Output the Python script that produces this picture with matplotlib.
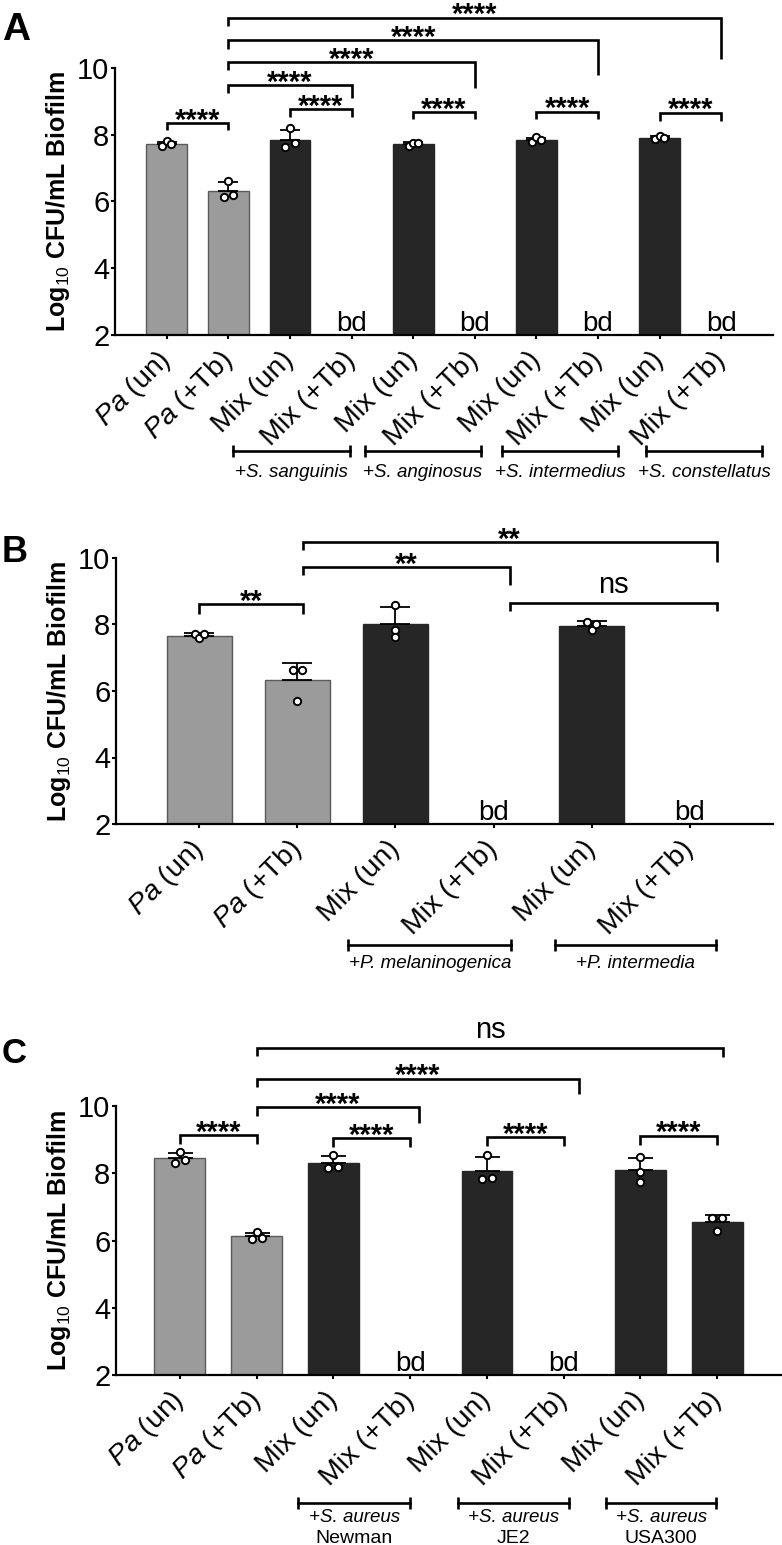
import numpy as np
import matplotlib
matplotlib.use('Agg')
from matplotlib import pyplot as plt

plt.rcParams['font.family'] = ['Liberation Sans', 'DejaVu Sans']
plt.rcParams['mathtext.fontset'] = 'custom'
plt.rcParams['mathtext.rm'] = 'Liberation Sans'
plt.rcParams['mathtext.it'] = 'Liberation Sans:italic'
plt.rcParams['mathtext.bf'] = 'Liberation Sans:bold'

GREY = '#9b9b9b'
DARK = '#262626'

pa_un = r'$\it{Pa}$ (un)'
pa_tb = r'$\it{Pa}$ (+Tb)'
mix_un = 'Mix (un)'
mix_tb = 'Mix (+Tb)'

# ---- Panel A : oral streptococci ----
a_labels = [pa_un, pa_tb] + [mix_un, mix_tb] * 4
# three replicates per bar (left, middle, right); None = below detection
a_points = [[7.67, 7.80, 7.72], [6.14, 6.62, 6.19],
            [7.64, 8.19, 7.74], None,
            [7.67, 7.76, 7.74], None,
            [7.79, 7.92, 7.84], None,
            [7.87, 7.96, 7.91], None]
a_colors = [GREY, GREY] + [DARK] * 8
a_jitter = [0.075] * 10
# (x1, x2, top, left leg end, right leg end, label)
a_brackets = [(0, 1, 8.35, 8.14, 8.14, '****'),
              (2, 3, 8.77, 8.53, 8.53, '****'),
              (4, 5, 8.68, 8.47, 8.47, '****'),
              (6, 7, 8.69, 8.47, 8.47, '****'),
              (8, 9, 8.66, 8.42, 8.42, '****'),
              (1, 3, 9.49, 9.25, 9.09, '****'),
              (1, 5, 10.18, 9.93, 9.39, '****'),
              (1, 7, 10.83, 10.58, 9.78, '****'),
              (1, 9, 11.51, 11.25, 10.28, '****')]
a_groups = [(1.075, 2.98, '+S. sanguinis', None),
            (3.22, 5.10, '+S. anginosus', None),
            (5.44, 7.33, '+S. intermedius', None),
            (7.78, 9.66, '+S. constellatus', None)]

# ---- Panel B : Prevotella ----
b_labels = [pa_un, pa_tb, mix_un, mix_tb, mix_un, mix_tb]
b_points = [[7.72, 7.58, 7.70], [6.63, 5.70, 6.63],
            [8.58, 7.83, 7.61], None,
            [8.07, 7.82, 8.00], None]
b_colors = [GREY, GREY, DARK, DARK, DARK, DARK]
b_jitter = [0.045, 0.045, 0.0, 0.0, 0.045, 0.0]
b_brackets = [(0, 1.055, 8.61, 8.33, 8.33, '**'),
              (1.055, 3.165, 9.73, 9.48, 9.18, '**'),
              (1.055, 5.275, 10.48, 10.23, 9.88, '**'),
              (3.165, 5.275, 8.64, 8.40, 8.40, 'ns')]
b_groups = [(1.52, 3.18, '+P. melaninogenica', None),
            (3.625, 5.27, '+P. intermedia', None)]

# ---- Panel C : S. aureus strains ----
c_labels = [pa_un, pa_tb] + [mix_un, mix_tb] * 3
c_points = [[8.30, 8.63, 8.40], [6.04, 6.25, 6.07],
            [8.17, 8.55, 8.20], None,
            [7.82, 8.53, 7.87], None,
            [8.48, 8.05, 7.73], [6.66, 6.29, 6.66]]
c_colors = [GREY, GREY] + [DARK] * 6
c_jitter = [0.065, 0.065, 0.065, 0.0, 0.065, 0.0, 0.0, 0.065]
c_brackets = [(0, 1, 9.14, 8.88, 8.88, '****'),
              (2, 3, 9.04, 8.77, 8.77, '****'),
              (4, 5, 9.07, 8.80, 8.80, '****'),
              (6, 7, 9.12, 8.85, 8.85, '****'),
              (1, 3.12, 9.97, 9.71, 9.49, '****'),
              (1, 5.2, 10.81, 10.56, 10.36, '****'),
              (1, 7.08, 11.72, 11.49, 11.47, 'ns')]
c_groups = [(1.544, 3.0, '+S. aureus', 'Newman'),
            (3.63, 5.07, '+S. aureus', 'JE2'),
            (5.55, 6.99, '+S. aureus', 'USA300')]


def bracket(ax, x1, x2, y, yl, yr, label):
    ax.plot([x1, x1, x2, x2], [yl, y, y, yr], color='black', lw=1.9,
            clip_on=False, solid_joinstyle='miter', solid_capstyle='butt')
    if label == 'ns':
        ax.annotate(label, ((x1 + x2) / 2, y), xytext=(0, 7), textcoords='offset points',
                    ha='center', va='baseline', fontsize=21, annotation_clip=False)
    else:
        ax.annotate(label, ((x1 + x2) / 2, y), xytext=(0, -4), textcoords='offset points',
                    ha='center', va='baseline', fontsize=21, fontweight='bold',
                    annotation_clip=False)


def draw_panel(ax, labels, points, colors, jitter, brackets, groups,
               xpad, capsize, y_line, y_text, y_text2=None):
    for i, pts in enumerate(points):
        if pts is None:
            ax.annotate('bd', (i, 2), xytext=(0, 3), textcoords='offset points',
                        ha='center', va='baseline', fontsize=20)
            continue
        m = np.mean(pts)
        sd = np.std(pts, ddof=1)
        edge = '#5a5a5a' if colors[i] == GREY else DARK
        ax.bar(i, m, width=0.66, color=colors[i], edgecolor=edge, linewidth=1, zorder=2)
        ax.errorbar(i, m, yerr=[[0], [sd]], fmt='none', ecolor='black', elinewidth=1.3,
                    capsize=capsize, capthick=1.3, zorder=3)
        ax.scatter(i + jitter[i] * np.array([-1, 0, 1]), pts, s=28, facecolor='white',
                   edgecolor='black', linewidth=1.4, zorder=4)

    for b in brackets:
        bracket(ax, *b)

    tr = ax.get_xaxis_transform()
    for x1, x2, txt, txt2 in groups:
        ax.plot([x1, x2], [y_line, y_line], transform=tr, color='black', lw=1.9,
                marker='|', markersize=8, mew=1.9, clip_on=False)
        ax.text((x1 + x2) / 2, y_text, txt, transform=tr, ha='center', va='baseline',
                fontsize=13.5, style='italic')
        if txt2:
            ax.text((x1 + x2) / 2, y_text2, txt2, transform=tr, ha='center',
                    va='baseline', fontsize=14)

    n = len(labels)
    ax.set_xlim(-xpad, n - 1 + xpad)
    ax.set_ylim(2, 10)
    ax.set_yticks([2, 4, 6, 8, 10])
    ax.set_xticks(range(n))
    ax.set_xticklabels(labels, rotation=45, ha='right', va='center',
                       rotation_mode='anchor', fontsize=20.5)
    ax.tick_params(axis='y', length=3, width=1.5, pad=1, labelsize=21)
    ax.tick_params(axis='x', length=3, width=1.5, pad=12)
    for s in ['top', 'right']:
        ax.spines[s].set_visible(False)
    for s in ['left', 'bottom']:
        ax.spines[s].set_linewidth(1.6)
    ax.set_ylabel(r'Log$_{\mathrm{10}}$ CFU/mL Biofilm', fontsize=18,
                  fontweight='bold', labelpad=4)


fig = plt.figure(figsize=(7.82, 15.45), dpi=100)
W, H = 782, 1545

ax_a = fig.add_axes([115 / W, 1 - 335 / H, 658 / W, 267 / H])
ax_b = fig.add_axes([116 / W, 1 - 824 / H, 657 / W, 266 / H])
ax_c = fig.add_axes([116 / W, 1 - 1375 / H, 665 / W, 269 / H])

draw_panel(ax_a, a_labels, a_points, a_colors, a_jitter, a_brackets, a_groups,
           0.84, 7, -0.433, -0.532)
draw_panel(ax_b, b_labels, b_points, b_colors, b_jitter, b_brackets, b_groups,
           0.85, 11, -0.454, -0.541)
draw_panel(ax_c, c_labels, c_points, c_colors, c_jitter, c_brackets, c_groups,
           0.83, 9, -0.475, -0.545, -0.6245)

fig.text(2 / W, 1 - 40 / H, 'A', fontsize=28, fontweight='bold', va='baseline')
fig.text(2 / W, 1 - 562 / H, 'B', fontsize=26, fontweight='bold', va='baseline')
fig.text(2 / W, 1 - 1063 / H, 'C', fontsize=25, fontweight='bold', va='baseline')

fig.savefig('out.png', dpi=100, facecolor='white')
